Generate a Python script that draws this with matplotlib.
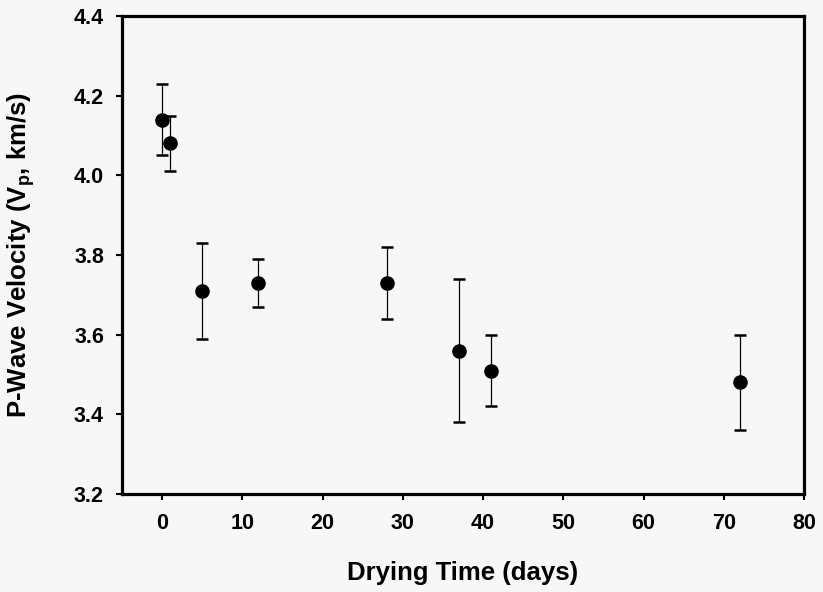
import matplotlib
matplotlib.use('Agg')
import matplotlib.pyplot as plt

# Data
days = [0, 1, 5, 12, 28, 37, 41, 72]
vp = [4.14, 4.08, 3.71, 3.73, 3.73, 3.56, 3.51, 3.48]
vp_low = [4.05, 4.01, 3.59, 3.67, 3.64, 3.38, 3.42, 3.36]
vp_high = [4.23, 4.15, 3.83, 3.79, 3.82, 3.74, 3.60, 3.60]

xticks = [0, 10, 20, 30, 40, 50, 60, 70, 80]
yticks = [3.2, 3.4, 3.6, 3.8, 4.0, 4.2, 4.4]

# Style
plt.rcParams['font.family'] = ['Liberation Sans', 'DejaVu Sans']
plt.rcParams['font.weight'] = 'bold'
bg = '#f7f7f7'

fig = plt.figure(figsize=(8.23, 5.92), dpi=100, facecolor=bg)
ax = fig.add_axes([122 / 823, 1 - 494 / 592, 682 / 823, 478 / 592])
ax.set_facecolor(bg)

# Error bars as (lower, upper) distances
yerr = [[v - lo for v, lo in zip(vp, vp_low)],
        [hi - v for v, hi in zip(vp, vp_high)]]
ax.errorbar(days, vp, yerr=yerr, fmt='o', color='black', ms=9.5,
            ecolor='black', elinewidth=0.9, capsize=4, capthick=1.8)

ax.set_xlim(-5, 80)
ax.set_ylim(3.2, 4.4)
ax.set_xticks(xticks)
ax.set_yticks(yticks)
ax.set_xticklabels([str(t) for t in xticks])
ax.set_yticklabels(['%.1f' % t for t in yticks])

for s in ax.spines.values():
    s.set_linewidth(2.3)
ax.tick_params(axis='both', direction='out', length=4, width=1.5,
               labelsize=15.5)
ax.tick_params(axis='x', pad=10)
ax.tick_params(axis='y', pad=9)

ax.set_xlabel('Drying Time (days)', fontsize=18.5, fontweight='bold')
ax.set_ylabel(r'P-Wave Velocity (V$_\mathregular{p}$, km/s)', fontsize=18.5,
              fontweight='bold')
ax.xaxis.set_label_coords(0.5, -0.14)
ax.yaxis.set_label_coords(-0.125, 0.5)

fig.savefig('out.png', dpi=100, facecolor=bg)
